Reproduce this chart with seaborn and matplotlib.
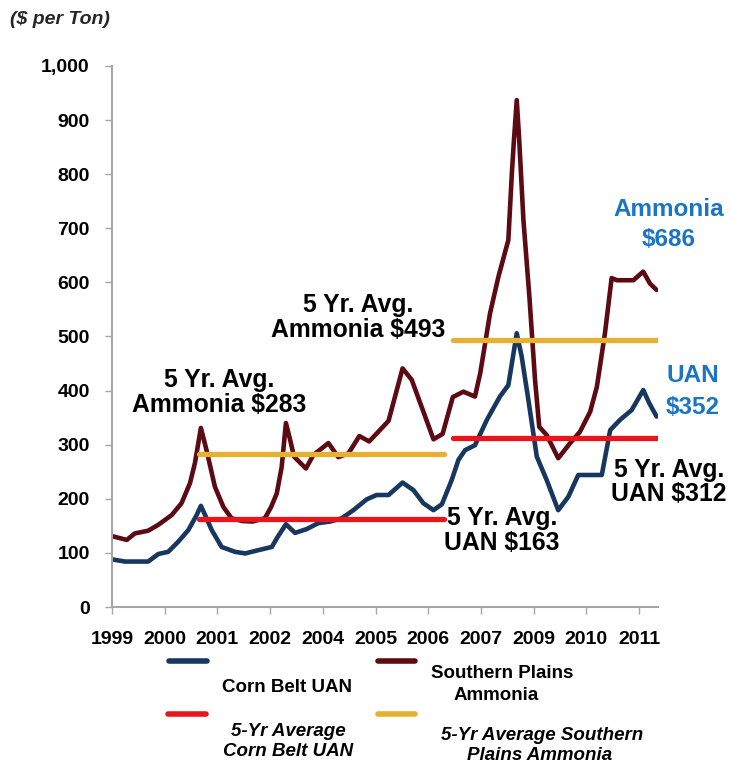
import matplotlib
matplotlib.use('Agg')
import matplotlib.pyplot as plt
from matplotlib.lines import Line2D
import seaborn as sns

# months since Jan 1999, values in $ per ton
amm_month = [0, 4.2, 6.5, 10.3, 13.2, 17.0, 19.8, 22.2, 23.6, 25.3, 26.9, 29.3, 31.7, 34.0,
             37.0, 40.0, 43.5, 45.3, 46.9, 48.3, 49.5, 50.7, 51.8, 55.2, 57.3, 61.6, 64.4,
             67.3, 70.4, 73.2, 78.7, 82.7, 85.3, 91.5, 94.1, 97.0, 100.0, 103.3, 104.8,
             107.6, 110.0, 112.8, 113.8, 114.4, 115.2, 115.9, 117.1, 118.8, 120.4, 121.6,
             123.7, 127.0, 130.4, 133.2, 136.1, 138.0, 140.3, 142.2, 143.7, 148.4, 151.2,
             153.1, 155.0]
amm_price = [131, 124, 136, 141, 152, 170, 192, 229, 266, 331, 290, 222, 185, 164,
             159, 158, 164, 185, 210, 259, 340, 309, 278, 256, 281, 303, 277,
             284, 316, 306, 344, 441, 420, 310, 320, 388, 398, 389, 432,
             543, 611, 678, 801, 863, 937, 863, 715, 573, 420, 333,
             318, 275, 303, 324, 361, 407, 506, 608, 604, 604, 620,
             598, 586]

uan_month = [0, 3.7, 10.3, 13.2, 16.0, 18.9, 21.7, 24.1, 25.3, 26.5, 28.4, 31.2, 35.0,
             37.9, 41.6, 45.5, 47.0, 49.5, 52.1, 55.4, 58.7, 62.1, 65.4, 68.7, 72.5,
             75.3, 78.7, 82.7, 85.8, 88.6, 91.5, 93.9, 96.7, 98.6, 100.5, 103.3, 106.7,
             110.4, 112.8, 115.2, 116.6, 118.5, 120.9, 123.7, 127.0, 129.9, 132.7, 136.1,
             139.4, 141.8, 144.6, 147.9, 151.2, 152.9, 155.0]
uan_price = [88, 84, 84, 98, 102, 121, 142, 170, 187, 170, 142, 111, 102,
             99, 105, 111, 128, 153, 137, 144, 155, 158, 164, 179, 199,
             207, 207, 230, 216, 192, 179, 190, 235, 272, 290, 299, 346,
             389, 410, 506, 463, 383, 278, 235, 179, 204, 244, 244,
             244, 327, 346, 364, 401, 377, 352]

# 5 year averages: two periods
avg_start = [24.8, 97.0]
avg_end = [94.5, 155.0]
uan_avg = [163, 312]
amm_avg = [283, 493]

tick_months = [0, 15, 30, 45, 60, 75, 90, 105, 120, 135, 150]
tick_labels = ['1999', '2000', '2001', '2002', '2004', '2005', '2006', '2007', '2009', '2010', '2011']

NAVY = '#17375e'
MAROON = '#5c0a14'
RED = '#e8161c'
GOLD = '#e6b030'
BLUE_TXT = '#1b75c4'

sns.set_theme(style='white')
plt.rcParams['font.family'] = ['Liberation Sans', 'DejaVu Sans']

W, H = 730, 765


def fx(x):
    return x / W


def fy(y):
    return 1 - y / H


fig = plt.figure(figsize=(W / 100, H / 100), dpi=100)
ax = fig.add_axes([fx(112), fy(607), (658 - 112) / W, (607 - 66) / H])

sns.lineplot(x=amm_month, y=amm_price, ax=ax, color=MAROON, lw=3.3, estimator=None, sort=False)
sns.lineplot(x=uan_month, y=uan_price, ax=ax, color=NAVY, lw=3.3, estimator=None, sort=False)
for s, e, u, a in zip(avg_start, avg_end, uan_avg, amm_avg):
    sns.lineplot(x=[s, e], y=[u, u], ax=ax, color=RED, lw=3.8, zorder=4)
    sns.lineplot(x=[s, e], y=[a, a], ax=ax, color=GOLD, lw=3.8, zorder=4)

ax.set_xlim(0, 155.4)
ax.set_ylim(0, 1000)
ax.set_xticks(tick_months)
ax.set_xticklabels(tick_labels)
yt = list(range(0, 1001, 100))
ax.set_yticks(yt)
ax.set_yticklabels([f'{v:,}' for v in yt])
ax.set_xlabel('')
ax.set_ylabel('')
for side in ['top', 'right']:
    ax.spines[side].set_visible(False)
for side in ['left', 'bottom']:
    ax.spines[side].set_color('#a6a6a6')
    ax.spines[side].set_linewidth(1.5)
ax.tick_params(axis='y', direction='out', length=5, width=1, color='#a6a6a6', pad=11, left=True)
ax.tick_params(axis='x', direction='out', length=5, width=1, color='#a6a6a6', pad=12, bottom=True)
for lab in ax.get_xticklabels() + ax.get_yticklabels():
    lab.set_fontsize(14)
    lab.set_fontweight('bold')
    lab.set_color('black')

fig.text(fx(10), fy(20), '($ per Ton)', fontsize=14, fontweight='bold', fontstyle='italic',
         ha='left', va='center')


def block(lines, x, ys, size, color='black', style='normal'):
    for line, y in zip(lines, ys):
        fig.text(fx(x), fy(y), line, ha='center', va='center', fontsize=size,
                 fontweight='bold', fontstyle=style, color=color)


block(['5 Yr. Avg.', 'Ammonia $283'], 219, [380, 405], 17.8)
block(['5 Yr. Avg.', 'Ammonia $493'], 358, [305, 330], 17.8)
block(['5 Yr. Avg.', 'UAN $163'], 502, [518, 543], 17.8)
block(['5 Yr. Avg.', 'UAN $312'], 669, [470, 494], 17.8)
block(['Ammonia', '$686'], 669, [210, 240], 17.5, BLUE_TXT)
block(['UAN', '$352'], 693, [375, 408], 17.5, BLUE_TXT)

# legend
for (x0, x1, y, c) in [(169, 207, 661, NAVY), (168, 206, 714, RED),
                       (378, 415, 661, MAROON), (378, 415, 714, GOLD)]:
    fig.add_artist(Line2D([fx(x0), fx(x1)], [fy(y), fy(y)], color=c, lw=4,
                          transform=fig.transFigure))
block(['Corn Belt UAN'], 287, [688], 13.5)
block(['5-Yr Average', 'Corn Belt UAN'], 288, [732, 751], 13.5, style='italic')
block(['Southern Plains'], 502, [674], 13.5)
block(['Ammonia'], 496, [696], 13.5)
block(['5-Yr Average Southern'], 542, [735], 13.5, style='italic')
block(['Plains Ammonia'], 540, [756], 13.5, style='italic')

fig.savefig('out.png', dpi=100)
